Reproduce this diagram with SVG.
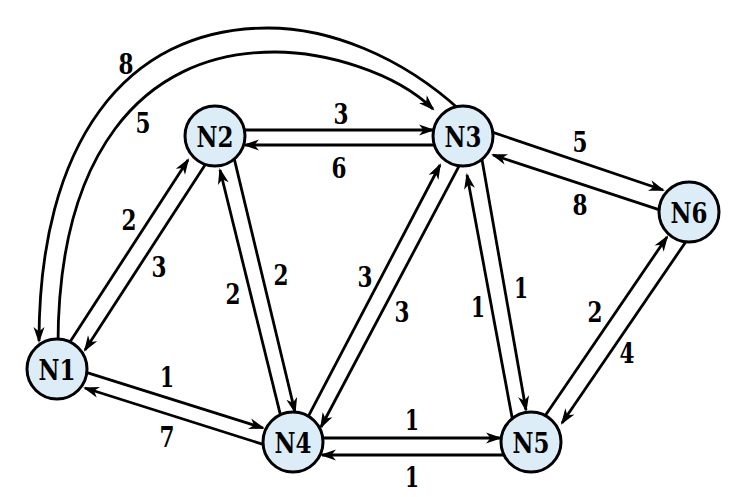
<svg xmlns="http://www.w3.org/2000/svg" width="747" height="497" viewBox="0 0 747 497">
  <style>
    .edge { fill: none; stroke: #000; stroke-width: 2.8; marker-end: url(#arrow); }
    .node circle { fill: #dcedf8; stroke: #000; stroke-width: 3; }
    .node text { font-family: 'DejaVu Serif', 'Liberation Serif', serif; font-weight: 700; font-size: 28px; text-anchor: middle; fill: #000; }
    .weight { font-family: 'DejaVu Serif', 'Liberation Serif', serif; font-weight: 700; font-size: 28px; text-anchor: middle; fill: #000; }
  </style>
  <defs>
    <marker id="arrow" markerUnits="userSpaceOnUse" markerWidth="30" markerHeight="30" viewBox="-20 -15 30 30" refX="0" refY="0" orient="auto" overflow="visible">
      <path d="M2,0 L-14,-5.5 L-9.5,0 L-14,5.5 Z" fill="#000"/>
    </marker>
  </defs>
  <rect width="747" height="497" fill="#fff"/>

  <!-- directed links, each drawn on the left of its direction of travel -->
  <g id="edges">
    <path class="edge" d="M58,345 C58,159 138,52 275,52 C325,52 395,72 433,109"/>
    <path class="edge" d="M461,111 C400,55 328,28 268,28 C124,28 39,145 39,341"/>
    <path class="edge" d="M66.7,347 L188,160"/>
    <path class="edge" d="M206.3,163 L85,350"/>
    <path class="edge" d="M233.6,156.2 L295,412"/>
    <path class="edge" d="M281.4,418.8 L220,170"/>
    <path class="edge" d="M82.3,371.2 L263,428"/>
    <path class="edge" d="M267.7,445.8 L85,388"/>
    <path class="edge" d="M306.2,420.3 L440,165"/>
    <path class="edge" d="M459.8,164.7 L321,427"/>
    <path class="edge" d="M317,438 L500,438"/>
    <path class="edge" d="M509,455 L322,455"/>
    <path class="edge" d="M481,154.1 L526,410"/>
    <path class="edge" d="M513.1,422.9 L467,175"/>
    <path class="edge" d="M543.6,418 L667,237"/>
    <path class="edge" d="M688.4,238 L562,423"/>
    <path class="edge" d="M489.3,131.1 L663,190"/>
    <path class="edge" d="M665.7,211.9 L493,155"/>
    <path class="edge" d="M239,130 L433,130"/>
    <path class="edge" d="M439,145 L245,145"/>
  </g>

  <!-- link weights -->
  <g id="weights">
    <text class="weight" x="126" y="74" textLength="15" lengthAdjust="spacingAndGlyphs">8</text>
    <text class="weight" x="143" y="133" textLength="15" lengthAdjust="spacingAndGlyphs">5</text>
    <text class="weight" x="341" y="124" textLength="15" lengthAdjust="spacingAndGlyphs">3</text>
    <text class="weight" x="339" y="178" textLength="15" lengthAdjust="spacingAndGlyphs">6</text>
    <text class="weight" x="580" y="152" textLength="15" lengthAdjust="spacingAndGlyphs">5</text>
    <text class="weight" x="580" y="215" textLength="15" lengthAdjust="spacingAndGlyphs">8</text>
    <text class="weight" x="129" y="230" textLength="15" lengthAdjust="spacingAndGlyphs">2</text>
    <text class="weight" x="159" y="277" textLength="15" lengthAdjust="spacingAndGlyphs">3</text>
    <text class="weight" x="281" y="285" textLength="15" lengthAdjust="spacingAndGlyphs">2</text>
    <text class="weight" x="233" y="304" textLength="15" lengthAdjust="spacingAndGlyphs">2</text>
    <text class="weight" x="365" y="287" textLength="15" lengthAdjust="spacingAndGlyphs">3</text>
    <text class="weight" x="402" y="322" textLength="15" lengthAdjust="spacingAndGlyphs">3</text>
    <text class="weight" x="521" y="298" textLength="14" lengthAdjust="spacingAndGlyphs">1</text>
    <text class="weight" x="478" y="317" textLength="14" lengthAdjust="spacingAndGlyphs">1</text>
    <text class="weight" x="595" y="322" textLength="15" lengthAdjust="spacingAndGlyphs">2</text>
    <text class="weight" x="627" y="363" textLength="15" lengthAdjust="spacingAndGlyphs">4</text>
    <text class="weight" x="167" y="387" textLength="14" lengthAdjust="spacingAndGlyphs">1</text>
    <text class="weight" x="167" y="447" textLength="15" lengthAdjust="spacingAndGlyphs">7</text>
    <text class="weight" x="412" y="430" textLength="14" lengthAdjust="spacingAndGlyphs">1</text>
    <text class="weight" x="412" y="487" textLength="14" lengthAdjust="spacingAndGlyphs">1</text>
  </g>

  <!-- routers -->
  <g id="N1" class="node"><circle cx="57" cy="369" r="30"/><text x="57" y="380" textLength="37" lengthAdjust="spacingAndGlyphs">N1</text></g>
  <g id="N2" class="node"><circle cx="215" cy="136" r="30"/><text x="215" y="147" textLength="37" lengthAdjust="spacingAndGlyphs">N2</text></g>
  <g id="N3" class="node"><circle cx="463" cy="136" r="30"/><text x="463" y="147" textLength="37" lengthAdjust="spacingAndGlyphs">N3</text></g>
  <g id="N4" class="node"><circle cx="293" cy="442" r="30"/><text x="293" y="453" textLength="37" lengthAdjust="spacingAndGlyphs">N4</text></g>
  <g id="N5" class="node"><circle cx="531" cy="442" r="30"/><text x="531" y="453" textLength="37" lengthAdjust="spacingAndGlyphs">N5</text></g>
  <g id="N6" class="node"><circle cx="689" cy="212" r="30"/><text x="689" y="223" textLength="37" lengthAdjust="spacingAndGlyphs">N6</text></g>
</svg>
